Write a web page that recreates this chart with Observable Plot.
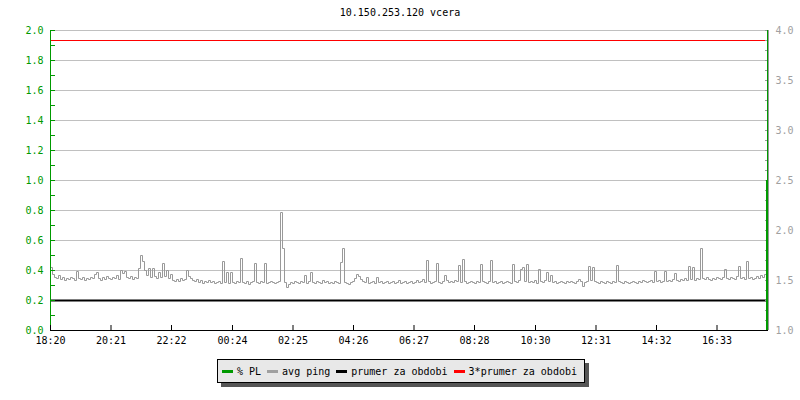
<!DOCTYPE html>
<html><head><meta charset="utf-8">
<script src="https://cdn.jsdelivr.net/npm/d3@7"></script>
<script src="https://cdn.jsdelivr.net/npm/@observablehq/plot@0.6"></script>
<style>
html,body{margin:0;padding:0;background:#fff;}
#wrap{position:relative;width:800px;height:400px;overflow:hidden;font-family:"DejaVu Sans Mono",monospace;font-size:10px;color:#000;}
#title{position:absolute;top:7px;left:0;width:800px;text-align:center;line-height:12px;}
#chart{position:absolute;top:0;left:0;}
#legend{position:absolute;left:217px;top:359px;height:24px;box-sizing:border-box;border:1px solid #000;background:#e8e8e8;box-shadow:4px 4px 0 #555;display:flex;align-items:center;padding:0 7px 0 4px;white-space:nowrap;}
.it{display:flex;align-items:center;margin-right:6px;}
.it:last-child{margin-right:0;}
.sw{display:inline-block;width:11px;height:3px;margin-right:4px;}
</style></head>
<body>
<div id="wrap">
  <div id="chart"></div>
  <div id="title"></div>
  <div id="legend"></div>
</div>
<script>
// ---------- data ----------
const titleText = "10.150.253.120 vcera";
const xTickLabels = ["18:20","20:21","22:22","00:24","02:25","04:26","06:27","08:28","10:30","12:31","14:32","16:33"];
const leftTickLabels = ["0.0","0.2","0.4","0.6","0.8","1.0","1.2","1.4","1.6","1.8","2.0"];
const rightTickLabels = ["1.0","1.5","2.0","2.5","3.0","3.5","4.0"];
const seriesNames = ["% PL","avg ping","prumer za obdobi","3*prumer za obdobi"];
const seriesColors = ["#009900","#999999","#000000","#ff0000"];
const startTime = "18:20";
const spanMinutes = 1436;     // width of the time window shown
const pingStepMinutes = 4;    // one sample every 4 minutes
// avg ping (ms), right axis
const pingValues = [
1.63,1.56,1.53,1.52,1.55,1.51,1.53,1.50,1.52,1.51,
1.53,1.52,1.50,1.59,1.52,1.51,1.53,1.50,1.52,1.51,
1.53,1.52,1.56,1.58,1.52,1.50,1.53,1.51,1.54,1.52,
1.51,1.53,1.52,1.55,1.51,1.60,1.57,1.59,1.53,1.52,
1.54,1.51,1.53,1.52,1.62,1.75,1.69,1.60,1.55,1.62,
1.53,1.62,1.54,1.52,1.58,1.53,1.67,1.54,1.60,1.52,
1.56,1.50,1.49,1.51,1.49,1.52,1.50,1.51,1.60,1.54,
1.52,1.50,1.49,1.51,1.48,1.50,1.47,1.49,1.48,1.50,
1.48,1.49,1.47,1.48,1.49,1.47,1.69,1.48,1.58,1.47,
1.58,1.48,1.47,1.49,1.48,1.72,1.48,1.47,1.49,1.46,
1.48,1.49,1.67,1.48,1.47,1.49,1.48,1.67,1.47,1.48,
1.49,1.48,1.47,1.48,1.49,2.18,1.82,1.48,1.43,1.46,
1.48,1.47,1.49,1.48,1.47,1.49,1.48,1.55,1.47,1.49,
1.58,1.48,1.47,1.49,1.48,1.47,1.50,1.48,1.49,1.47,
1.48,1.47,1.49,1.48,1.47,1.68,1.82,1.48,1.47,1.46,
1.48,1.49,1.52,1.56,1.54,1.51,1.49,1.48,1.53,1.47,
1.48,1.49,1.47,1.53,1.48,1.49,1.47,1.48,1.49,1.47,
1.48,1.49,1.47,1.48,1.50,1.47,1.48,1.49,1.47,1.48,
1.49,1.47,1.48,1.50,1.48,1.49,1.51,1.48,1.70,1.49,
1.47,1.48,1.49,1.67,1.48,1.47,1.49,1.55,1.50,1.48,
1.49,1.48,1.50,1.49,1.65,1.48,1.71,1.49,1.47,1.48,
1.49,1.48,1.47,1.49,1.48,1.66,1.49,1.48,1.47,1.49,
1.70,1.48,1.49,1.47,1.48,1.49,1.47,1.48,1.49,1.48,
1.47,1.66,1.49,1.48,1.50,1.61,1.63,1.49,1.66,1.48,
1.49,1.48,1.50,1.47,1.61,1.49,1.48,1.50,1.58,1.49,
1.55,1.48,1.49,1.47,1.48,1.49,1.48,1.47,1.49,1.48,
1.49,1.48,1.47,1.49,1.51,1.49,1.44,1.48,1.49,1.64,
1.50,1.63,1.49,1.48,1.47,1.49,1.48,1.47,1.49,1.48,
1.47,1.49,1.48,1.65,1.49,1.48,1.47,1.49,1.48,1.47,
1.48,1.49,1.48,1.47,1.49,1.48,1.50,1.49,1.48,1.49,
1.50,1.48,1.59,1.49,1.50,1.48,1.49,1.59,1.49,1.50,
1.49,1.51,1.57,1.50,1.49,1.51,1.50,1.52,1.50,1.64,
1.51,1.63,1.50,1.52,1.51,1.82,1.52,1.51,1.53,1.51,
1.50,1.52,1.51,1.53,1.52,1.51,1.53,1.61,1.52,1.51,
1.53,1.52,1.51,1.54,1.64,1.52,1.53,1.51,1.69,1.52,
1.53,1.51,1.52,1.54,1.52,1.55,1.53,1.56,1.62
];
const avgPing = [1.3];          // prumer za obdobi (ms)
const avgFactor = 3;            // 3*prumer za obdobi
// % PL (left axis) — packet loss at the very end of the window
const plTimes = ["18:13","18:13"];
const plValues = [1.0, 2.0];

// ---------- helpers ----------
const toMin = s => { const [h,m] = s.split(":").map(Number); const [h0,m0] = startTime.split(":").map(Number);
  return ((h*60+m) - (h0*60+m0) + 1440) % 1440; };
const leftTickVals = leftTickLabels.map(Number);
const rightTickVals = rightTickLabels.map(Number);
const rMin = rightTickVals[0], rMax = rightTickVals[rightTickVals.length-1];
const lMax = leftTickVals[leftTickVals.length-1];
const toLeft = v => (v - rMin) / (rMax - rMin) * lMax;
const xTickMins = xTickLabels.map(toMin);
const ping = pingValues.map((v,i) => ({t: i*pingStepMinutes, v}));
const pl = plTimes.map((s,i) => ({t: toMin(s), v: plValues[i]}));
const leftMinor = d3.range(0, lMax + 1e-9, 0.1);
const rightMinor = d3.range(rMin, rMax + 1e-9, 0.1).map(toLeft);
const rightTickPos = rightTickVals.map(toLeft);

const W = 800, H = 350, mL = 50, mR = 32, mT = 30, mB = 20;
const pxPerMin = (W - mL - mR) / spanMinutes;
const pxPerY = (H - mT - mB) / lMax;
const green = seriesColors[0], gray = seriesColors[1];

const chart = Plot.plot({
  width: W, height: H,
  marginLeft: mL, marginRight: mR, marginTop: mT, marginBottom: mB,
  x: {type: "linear", domain: [0, spanMinutes], axis: null},
  y: {domain: [0, lMax], axis: null},
  style: {fontFamily: "DejaVu Sans Mono, monospace", fontSize: "10px", background: "transparent", overflow: "visible"},
  marks: [
    Plot.ruleY(leftTickVals, {y: d => d, stroke: "#c0c0c0", strokeWidth: 1}),
    Plot.ruleY(avgPing, {y: d => toLeft(d * avgFactor), stroke: seriesColors[3], strokeWidth: 1}),
    Plot.line(ping, {x: "t", y: d => toLeft(d.v), stroke: gray, strokeWidth: 1, curve: "step-after"}),
    Plot.ruleY(avgPing, {y: d => toLeft(d), stroke: seriesColors[2], strokeWidth: 2}),
    // left axis
    Plot.ruleX([0], {x: d => d, stroke: green}),
    Plot.ruleY(leftMinor, {y: d => d, x1: 0, x2: 5 / pxPerMin, stroke: green}),
    Plot.axisY({anchor: "left", ticks: leftTickVals, tickSize: 0, tickPadding: 7, label: null,
      tickFormat: d => leftTickLabels[leftTickVals.indexOf(d)], fill: green}),
    // right axis
    Plot.ruleX([spanMinutes], {x: d => d, stroke: gray}),
    Plot.ruleY(rightMinor, {y: d => d, x1: spanMinutes - 3 / pxPerMin, x2: spanMinutes, stroke: gray}),
    Plot.axisY({anchor: "right", ticks: rightTickPos, tickSize: 0, tickPadding: 7, label: null,
      tickFormat: d => rightTickLabels[rightTickPos.indexOf(d)], fill: "#a0a0a0"}),
    // % PL
    Plot.ruleX(pl.filter(d => d.v <= 1), {x: "t", y1: 0, y2: "v", stroke: green, strokeWidth: 2}),
    Plot.ruleX(pl, {x: "t", y1: 0, y2: "v", stroke: green, strokeWidth: 1, dx: 0.5}),
    // bottom axis
    Plot.ruleY([0], {y: d => d, stroke: "#000"}),
    Plot.ruleX(xTickMins, {x: d => d, y1: 0, y2: 5 / pxPerY, stroke: "#000"}),
    Plot.axisX({ticks: xTickMins, tickSize: 0, tickPadding: 6, label: null,
      tickFormat: d => xTickLabels[xTickMins.indexOf(d)], fill: "#000"})
  ]
});
document.getElementById("chart").appendChild(chart);
document.getElementById("title").textContent = titleText;

const lg = document.getElementById("legend");
seriesNames.forEach((n, i) => {
  const it = document.createElement("span"); it.className = "it";
  const sw = document.createElement("span"); sw.className = "sw"; sw.style.background = i === 1 ? "#a0a0a0" : seriesColors[i];
  const tx = document.createElement("span"); tx.textContent = n;
  it.appendChild(sw); it.appendChild(tx); lg.appendChild(it);
});
</script>
</body></html>
